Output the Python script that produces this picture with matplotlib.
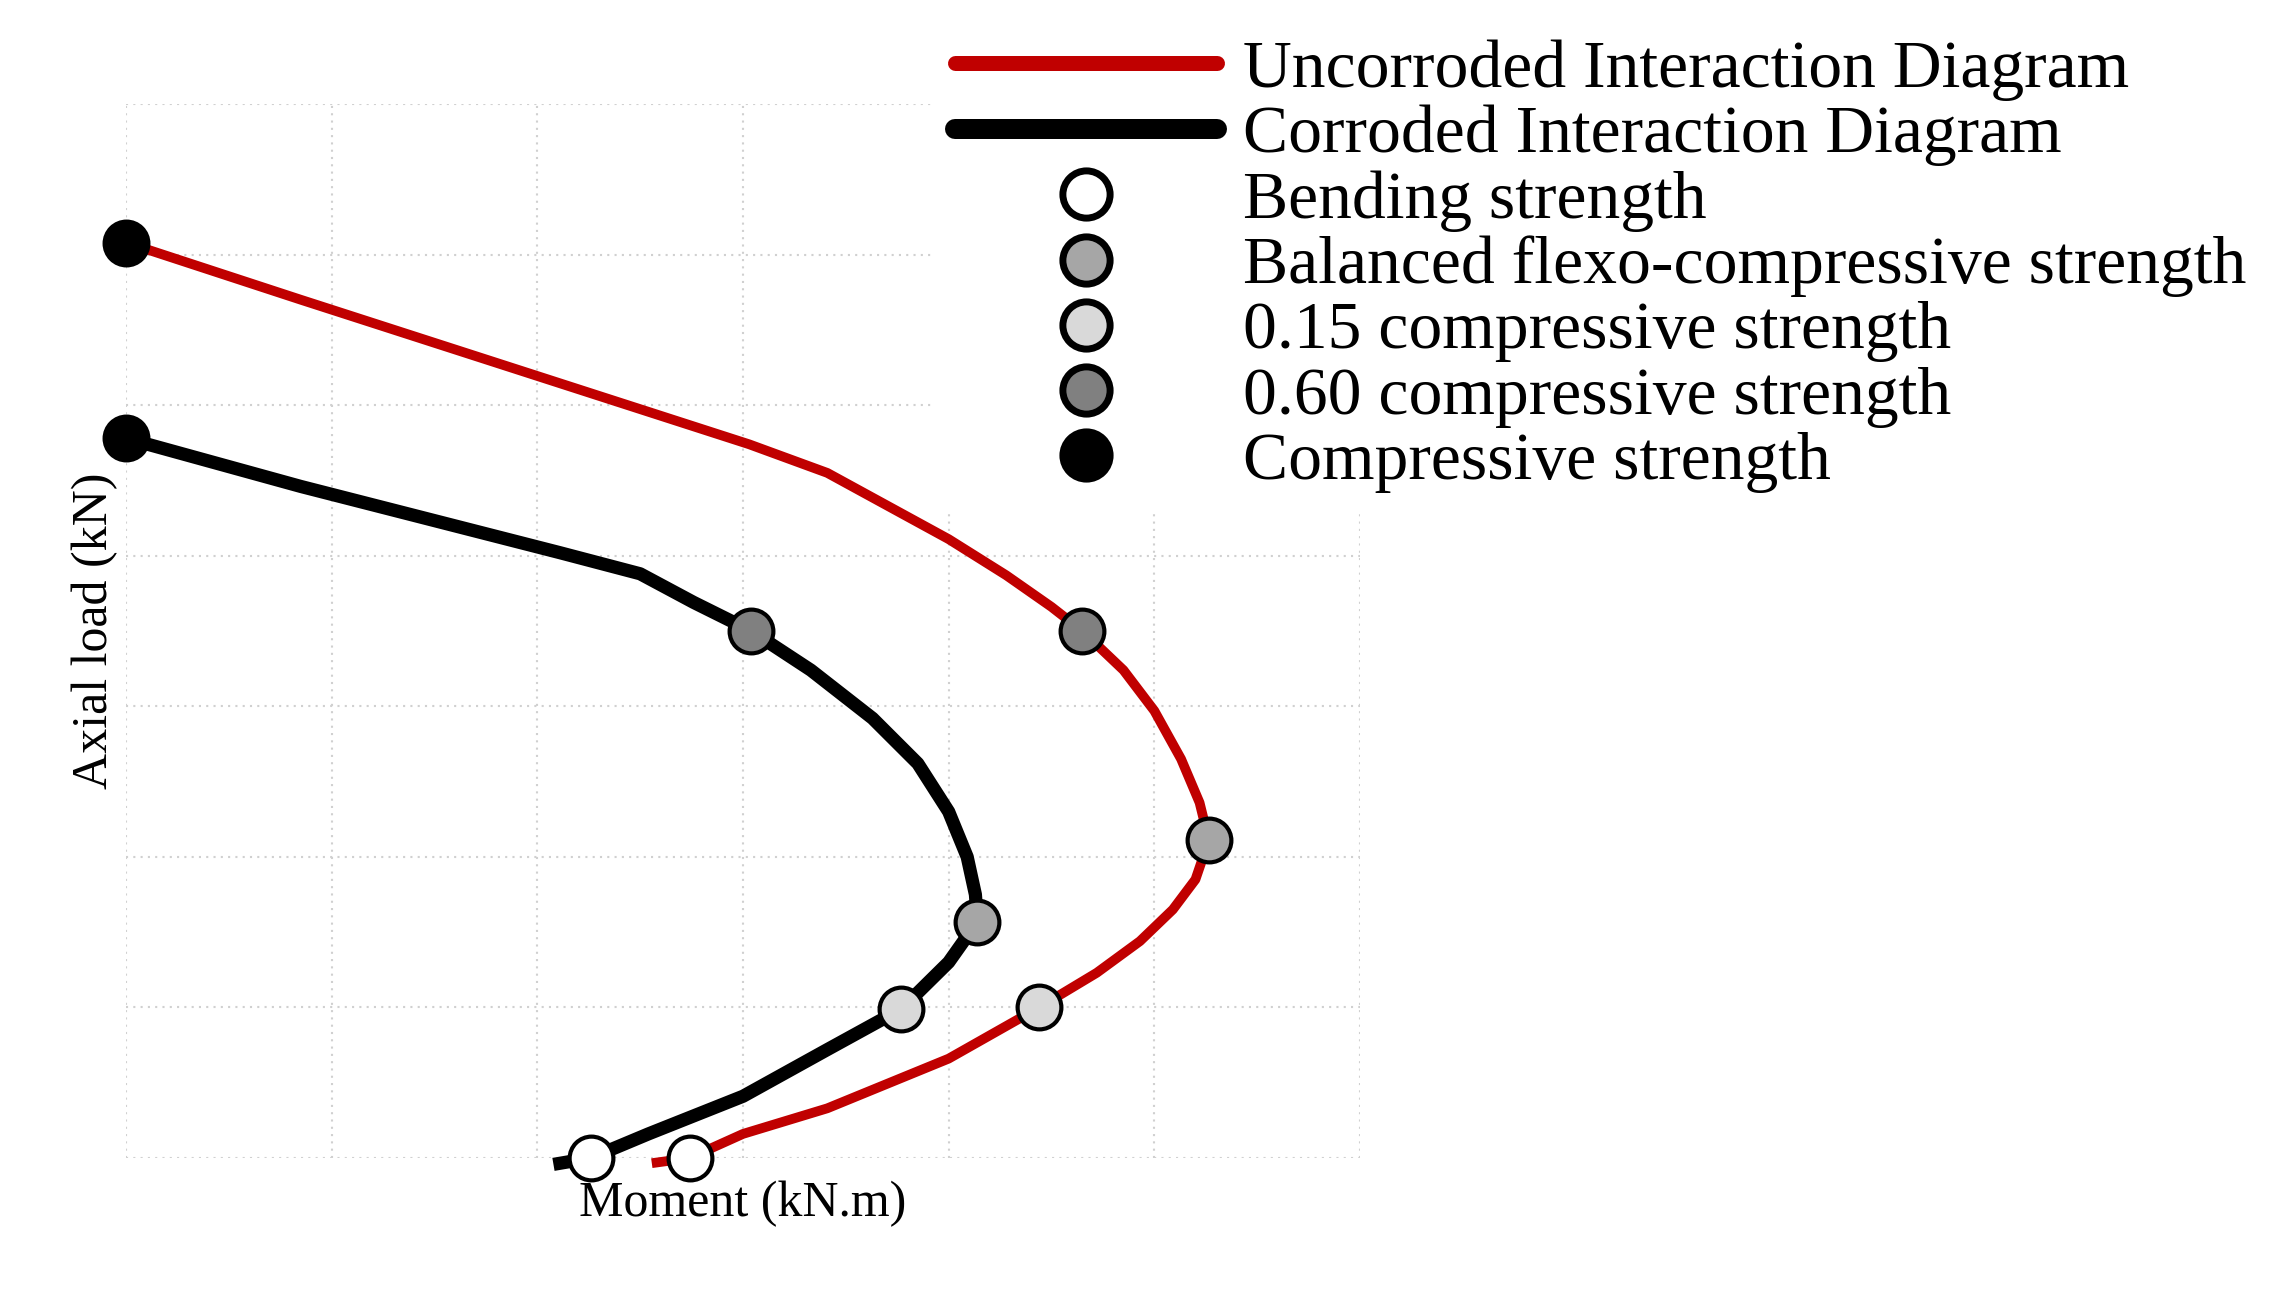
import matplotlib
matplotlib.use("Agg")
import matplotlib.pyplot as plt
from matplotlib.lines import Line2D

plt.rcParams['font.family'] = ['Liberation Serif', 'DejaVu Serif']

# Interaction diagram curves (moment, axial load) in grid units
uncorroded_moment = [2.58, 2.74, 3.00, 3.41, 4.00, 4.44, 4.72, 4.93, 5.09, 5.20, 5.265,
                     5.22, 5.13, 5.00, 4.85, 4.65, 4.50, 4.28, 4.00, 3.41, 3.03, 0.85, 0.0]
uncorroded_axial = [-0.03, 0.00, 0.16, 0.33, 0.66, 1.00, 1.23, 1.44, 1.65, 1.85, 2.11,
                    2.36, 2.65, 2.97, 3.24, 3.50, 3.66, 3.87, 4.11, 4.55, 4.74, 5.70, 6.08]

corroded_moment = [2.11, 2.26, 2.54, 3.00, 3.41, 3.77, 4.00, 4.14, 4.13, 4.09, 4.00,
                   3.85, 3.63, 3.33, 3.04, 2.76, 2.50, 2.11, 0.85, 0.0]
corroded_axial = [-0.035, 0.00, 0.16, 0.41, 0.72, 0.99, 1.30, 1.57, 1.75, 2.00, 2.30,
                  2.62, 2.92, 3.24, 3.50, 3.69, 3.88, 4.02, 4.46, 4.78]

# Characteristic points
point_labels = ["Bending strength", "Balanced flexo-compressive strength",
                "0.15 compressive strength", "0.60 compressive strength",
                "Compressive strength"]
point_colors = ["white", "#A6A6A6", "#D9D9D9", "#808080", "black"]

uncorroded_pts_moment = [2.74, 5.265, 4.44, 4.65, 0.0]
uncorroded_pts_axial = [0.00, 2.11, 1.00, 3.50, 6.08]
corroded_pts_moment = [2.26, 4.14, 3.77, 3.04, 0.0]
corroded_pts_axial = [0.00, 1.57, 0.99, 3.50, 4.78]

red = "#C00000"

fig = plt.figure(figsize=(22.81, 12.97), dpi=100)
ax = fig.add_axes([126 / 2281, 1 - 1158 / 1297, (1360 - 126) / 2281, (1158 - 104) / 1297])

ax.plot(uncorroded_moment, uncorroded_axial, color=red, lw=7,
        solid_joinstyle='round', zorder=3, clip_on=False)
ax.plot(corroded_moment, corroded_axial, color='black', lw=9.5,
        solid_joinstyle='round', zorder=3, clip_on=False)

for i in range(len(point_labels)):
    for mx, my in ((uncorroded_pts_moment[i], uncorroded_pts_axial[i]),
                   (corroded_pts_moment[i], corroded_pts_axial[i])):
        ax.plot([mx], [my], ls='none', marker='o', ms=31.5, mfc=point_colors[i],
                mec='black', mew=3, zorder=4, clip_on=False)

ax.set_xlim(0, 6)
ax.set_ylim(0, 7)
ax.set_xticks(range(0, 7))
ax.set_yticks(range(0, 8))
ax.grid(True, color='#D0D0D0', lw=1.5, linestyle=(0, (1, 2.5)))
ax.set_axisbelow(True)
ax.tick_params(length=0, labelbottom=False, labelleft=False)
for s in ax.spines.values():
    s.set_visible(False)

ax.set_xlabel("Moment (kN.m)", fontsize=36, labelpad=16)
ax.set_ylabel("Axial load (kN)", fontsize=36, labelpad=6)

# Legend
handles = [Line2D([], [], color=red, lw=10.8, solid_capstyle='round'),
           Line2D([], [], color='black', lw=14.4, solid_capstyle='round')]
for c in point_colors:
    handles.append(Line2D([], [], ls='none', marker='o', ms=34, mfc=c,
                          mec='black', mew=5))
labels = ["Uncorroded Interaction Diagram", "Corroded Interaction Diagram"] + point_labels

leg = fig.legend(handles, labels, loc='upper left',
                 bbox_to_anchor=(935 / 2281, 1 - 19 / 1297),
                 fontsize=48.7, frameon=True, facecolor='white', edgecolor='none',
                 framealpha=1, fancybox=False, borderpad=0.3, borderaxespad=0,
                 handlelength=3.87, handletextpad=0.38, labelspacing=0.058,
                 numpoints=1)

fig.savefig("out.png", dpi=100, facecolor='white')
